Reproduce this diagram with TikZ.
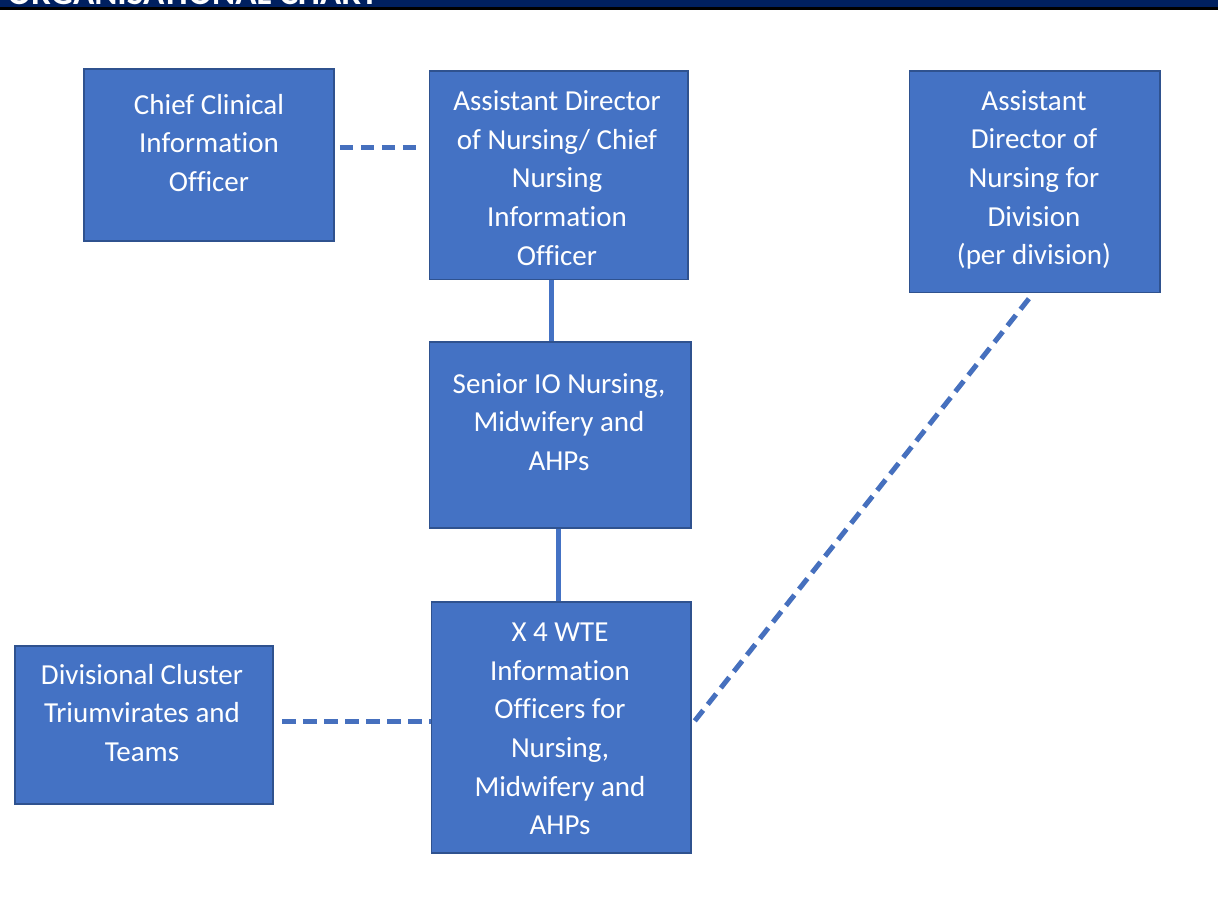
\documentclass[tikz,border=0pt]{standalone}
\usepackage{fontspec}
\setmainfont{Carlito}[Ligatures=NoCommon]
\usetikzlibrary{positioning}
\definecolor{boxblue}{HTML}{4472C4}
\definecolor{boxedge}{HTML}{2F528F}
\definecolor{linkblue}{HTML}{4670BE}
\definecolor{bannernavy}{HTML}{002060}

\begin{document}
\begin{tikzpicture}[x=0.02cm,y=-0.02cm]
\tikzstyle{box}=[rectangle,draw=boxedge,line width=0.6pt,fill=boxblue,inner sep=0pt]
\tikzstyle{boxtext}=[text=white,align=center,font=\fontsize{16.5}{22}\selectfont]
\tikzstyle{solidlink}=[line width=0.1cm,color=boxblue]
\tikzstyle{dashlink}=[line width=0.1cm,color=linkblue,dash pattern=on 0.27cm off 0.15cm]
\useasboundingbox (0,0) rectangle (1218,901);
% banner
\fill[bannernavy] (0,0) rectangle (1218,7);
\fill[black] (0,7) rectangle (1218,10);
\begin{scope}
\clip (0,0) rectangle (1218,7);
\node[anchor=base west,inner sep=0pt,text=white,font=\fontsize{20}{22}\selectfont\bfseries] (banner) at (7,5) {ORGANISATIONAL CHART};
\end{scope}
% boxes
\node[box,minimum width=5cm,minimum height=3.44cm] (ccio) at (209,155) {};
\node[box,minimum width=5.18cm,minimum height=4.18cm] (cnio) at (558.5,175.5) {};
\node[box,minimum width=5.02cm,minimum height=4.44cm] (adond) at (1034.5,182) {};
\node[box,minimum width=5.24cm,minimum height=3.72cm] (senior) at (560,435) {};
\node[box,minimum width=5.2cm,minimum height=5.02cm] (wte) at (561,727.5) {};
\node[box,minimum width=5.16cm,minimum height=3.16cm] (cluster) at (144,725) {};
% texts
\node[boxtext] (ccio text) at (209,143) {Chief Clinical\\Information\\Officer};
\node[boxtext] (cnio text) at (557,178) {Assistant Director\\of Nursing/ Chief\\Nursing\\Information\\Officer};
\node[boxtext] (adond text) at (1034,180) {Assistant\\Director of\\Nursing for\\Division\\(per division)};
\node[boxtext] (senior text) at (559,422) {Senior IO Nursing,\\Midwifery and\\AHPs};
\node[boxtext] (wte text) at (560,729) {X 4 WTE\\Information\\Officers for\\Nursing,\\Midwifery and\\AHPs};
\node[boxtext] (cluster text) at (142,713) {Divisional Cluster\\Triumvirates and\\Teams};
% links
\draw[dashlink,shorten <=3,shorten >=4] (ccio.east |- 0,148) -- (cnio.west |- 0,148);
\draw[solidlink] (cnio.south -| 551,0) -- (senior.north -| 551,0);
\draw[solidlink] (senior.south -| 558,0) -- (wte.north -| 558,0);
\draw[dashlink,shorten <=5] (cluster.east |- 0,722) -- (wte.west |- 0,722);
\draw[dashlink,shorten <=3] (wte.east |- 0,725) -- (adond.south -| 1033,0);
\end{tikzpicture}
\end{document}
